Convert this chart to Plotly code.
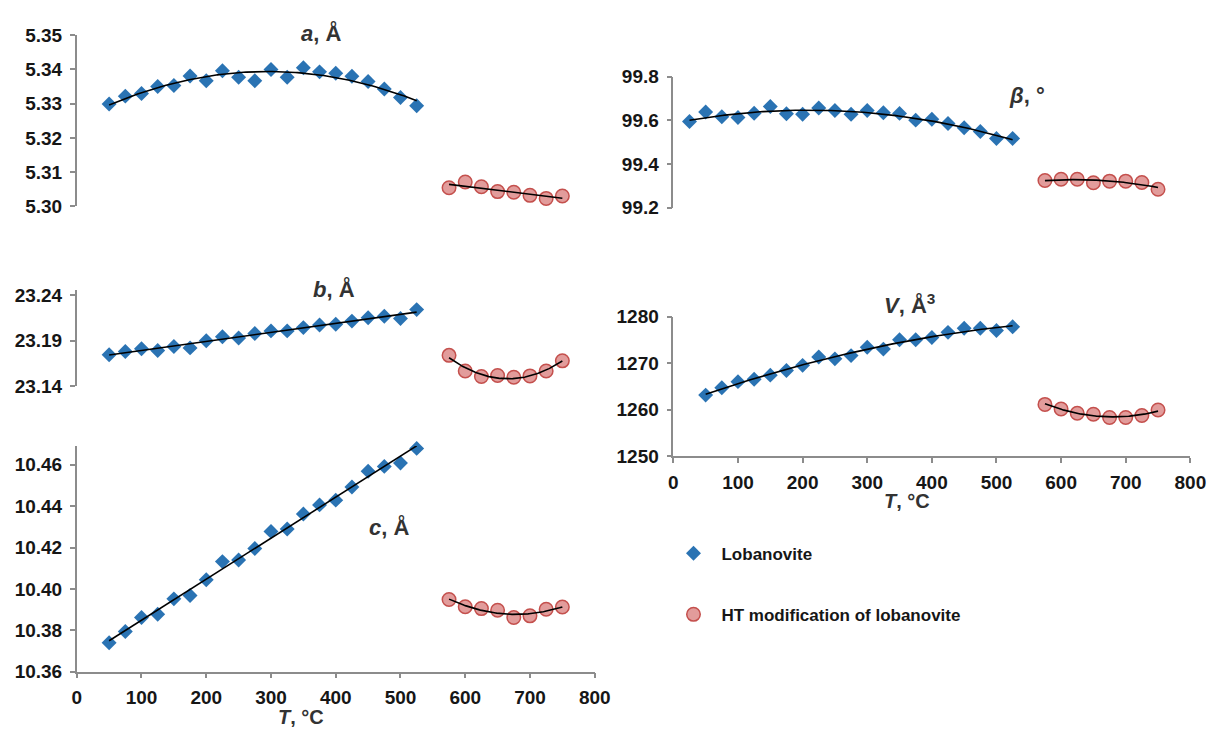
import numpy as np
import plotly.graph_objects as go

# Temperatures, °C
T_LOB = [50, 75, 100, 125, 150, 175, 200, 225, 250, 275, 300, 325, 350, 375,
         400, 425, 450, 475, 500, 525]
T_LOB_BETA = [25] + T_LOB
T_HT = [575, 600, 625, 650, 675, 700, 725, 750]

# Unit-cell parameters of lobanovite
A_LOB = [5.3299, 5.3322, 5.3330, 5.3350, 5.3353, 5.3381, 5.3367, 5.3396, 5.3377, 5.3367,
         5.3400, 5.3377, 5.3405, 5.3393, 5.3389, 5.3380, 5.3365, 5.3343, 5.3318, 5.3294]
B_LOB = [23.1746, 23.1782, 23.1811, 23.1793, 23.1836, 23.1821, 23.1900, 23.1943, 23.1929, 23.1979,
         23.2007, 23.2007, 23.2043, 23.2071, 23.2079, 23.2114, 23.2150, 23.2168, 23.2143, 23.2240]
C_LOB = [10.3740, 10.3794, 10.3862, 10.3878, 10.3952, 10.3968, 10.4044, 10.4132, 10.4140, 10.4195,
         10.4278, 10.4290, 10.4362, 10.4406, 10.4429, 10.4492, 10.4568, 10.4592, 10.4608, 10.4679]
BETA_LOB = [99.595, 99.638, 99.617, 99.613, 99.633, 99.664, 99.630, 99.628, 99.657, 99.645, 99.628,
            99.645, 99.635, 99.632, 99.601, 99.605, 99.586, 99.566, 99.549, 99.517, 99.517]
V_LOB = [1263.1, 1264.7, 1266.0, 1266.5, 1267.4, 1268.4, 1269.5, 1271.3, 1270.9, 1271.6,
         1273.4, 1273.0, 1275.0, 1275.0, 1275.5, 1276.6, 1277.5, 1277.5, 1277.0, 1277.8]

# Unit-cell parameters of the HT modification
A_HT = [5.3054, 5.3071, 5.3057, 5.3043, 5.3041, 5.3032, 5.3023, 5.3030]
B_HT = [23.1739, 23.1568, 23.1507, 23.1518, 23.1500, 23.1514, 23.1568, 23.1679]
C_HT = [10.3949, 10.3914, 10.3905, 10.3897, 10.3862, 10.3870, 10.3902, 10.3913]
BETA_HT = [99.324, 99.330, 99.330, 99.314, 99.321, 99.321, 99.315, 99.284]
V_HT = [1261.1, 1260.1, 1259.2, 1259.0, 1258.3, 1258.3, 1258.7, 1259.9]

# Axis tick values
A_TICKS = [5.30, 5.31, 5.32, 5.33, 5.34, 5.35]
B_TICKS = [23.14, 23.19, 23.24]
C_TICKS = [10.36, 10.38, 10.40, 10.42, 10.44, 10.46]
BETA_TICKS = [99.2, 99.4, 99.6, 99.8]
V_TICKS = [1250, 1260, 1270, 1280]
T_TICKS = [0, 100, 200, 300, 400, 500, 600, 700, 800]

W, H = 1226, 742
FONT = "Liberation Sans, Arial, sans-serif"
BLUE = "#2a73b3"
PINK_FILL = "rgba(224,148,146,0.92)"
PINK_LINE = "#c4504d"
AXIS_GREY = "#8c8c8c"
TEXT = "#161616"


def px_x(p):
    return p / W


def px_y(p):
    return 1 - p / H


def trend(x, y, deg):
    coef = np.polyfit(x, y, deg)
    xs = np.linspace(min(x), max(x), 120)
    return xs, np.polyval(coef, xs)


fig = go.Figure()

panels = [
    # (axis suffix, lobanovite T, lobanovite y, HT y, fit degree lob, fit degree HT)
    ("", T_LOB, A_LOB, A_HT, 2, 1),
    ("2", T_LOB_BETA, BETA_LOB, BETA_HT, 2, 2),
    ("3", T_LOB, B_LOB, B_HT, 1, 2),
    ("4", T_LOB, V_LOB, V_HT, 2, 2),
    ("5", T_LOB, C_LOB, C_HT, 1, 2),
]

for i, (sfx, tl, yl, yh, dl, dh) in enumerate(panels):
    xa, ya = "x" + sfx, "y" + sfx
    first = i == 0
    fig.add_trace(go.Scatter(
        x=tl, y=yl, xaxis=xa, yaxis=ya, mode="markers", cliponaxis=False,
        marker=dict(symbol="diamond", size=11.5, color=BLUE, line=dict(width=0)),
        name="Lobanovite", legendgroup="lob", showlegend=first))
    fig.add_trace(go.Scatter(
        x=T_HT, y=yh, xaxis=xa, yaxis=ya, mode="markers", cliponaxis=False,
        marker=dict(symbol="circle", size=13.5, color=PINK_FILL,
                    line=dict(width=1.5, color=PINK_LINE)),
        name="HT modification of lobanovite", legendgroup="ht", showlegend=first))
    for tx, ty, d in ((tl, yl, dl), (T_HT, yh, dh)):
        xs, ys = trend(tx, ty, d)
        fig.add_trace(go.Scatter(
            x=xs, y=ys, xaxis=xa, yaxis=ya, mode="lines",
            line=dict(color="black", width=1.6), showlegend=False, hoverinfo="skip"))

left_dom = [px_x(73), px_x(600)]
right_dom = [px_x(680), px_x(1206)]

tick_font = dict(family=FONT, size=19, color=TEXT, weight="bold")


def yaxis(dom, rng, ticks, fmt, anchor):
    return dict(domain=dom, range=rng, tickvals=ticks, tickformat=fmt, anchor=anchor,
                showline=True, linecolor=AXIS_GREY, linewidth=1.5, ticks="outside",
                ticklen=5, tickcolor=AXIS_GREY, tickwidth=1.5, showgrid=False,
                zeroline=False, tickfont=tick_font, ticklabelstandoff=4)


def xaxis(dom, anchor, visible):
    d = dict(domain=dom, range=[0, 800], anchor=anchor, showgrid=False, zeroline=False)
    if visible:
        d.update(showline=True, linecolor=AXIS_GREY, linewidth=1.5, ticks="outside",
                 ticklen=5, tickcolor=AXIS_GREY, tickwidth=1.5, tickvals=T_TICKS,
                 tickfont=tick_font, ticklabelstandoff=3)
    else:
        d.update(visible=False)
    return d


fig.update_layout(
    width=W, height=H,
    margin=dict(l=0, r=0, t=0, b=0),
    paper_bgcolor="white", plot_bgcolor="rgba(0,0,0,0)",
    xaxis=xaxis(left_dom, "y", False),
    yaxis=yaxis([px_y(202), px_y(26)], [5.30, 5.35], A_TICKS, ".2f", "x"),
    xaxis2=xaxis(right_dom, "y2", False),
    yaxis2=yaxis([px_y(203.3), px_y(68.7)], [99.2, 99.8], BETA_TICKS, ".1f", "x2"),
    xaxis3=xaxis(left_dom, "y3", False),
    yaxis3=yaxis([px_y(387.3), px_y(288.6)], [23.14, 23.245], B_TICKS, ".2f", "x3"),
    xaxis4=xaxis(right_dom, "y4", True),
    yaxis4=yaxis([px_y(459), px_y(315.5)], [1250, 1280], V_TICKS, "d", "x4"),
    xaxis5=xaxis(left_dom, "y5", True),
    yaxis5=yaxis([px_y(681), px_y(448.8)], [10.36, 10.469], C_TICKS, ".2f", "x5"),
    legend=dict(x=px_x(672), y=px_y(541), xanchor="left", yanchor="top",
                font=dict(family=FONT, size=17, color=TEXT, weight="bold"),
                tracegroupgap=36, bgcolor="rgba(0,0,0,0)", itemsizing="trace",
                itemwidth=46),
    showlegend=True,
)

title_font = dict(family=FONT, size=22, color="#333333")
axis_title_font = dict(family=FONT, size=20, color="#333333")
labels = [
    ("<b><i>a</i>, Å</b>", 322, 24, title_font),
    ("<b><i>β</i>, °</b>", 1040, 88, title_font),
    ("<b><i>b</i>, Å</b>", 335, 287, title_font),
    ("<b><i>V</i>, Å<sup>3</sup></b>", 920, 303, title_font),
    ("<b><i>c</i>, Å</b>", 391, 532, title_font),
    ("<b><i>T</i>, °C</b>", 301, 728, axis_title_font),
    ("<b><i>T</i>, °C</b>", 918, 505, axis_title_font),
]
for text, x, y, f in labels:
    fig.add_annotation(text=text, x=px_x(x), y=px_y(y), xref="paper", yref="paper",
                       showarrow=False, xanchor="center", yanchor="middle", font=f)

fig.write_html("out.html")
